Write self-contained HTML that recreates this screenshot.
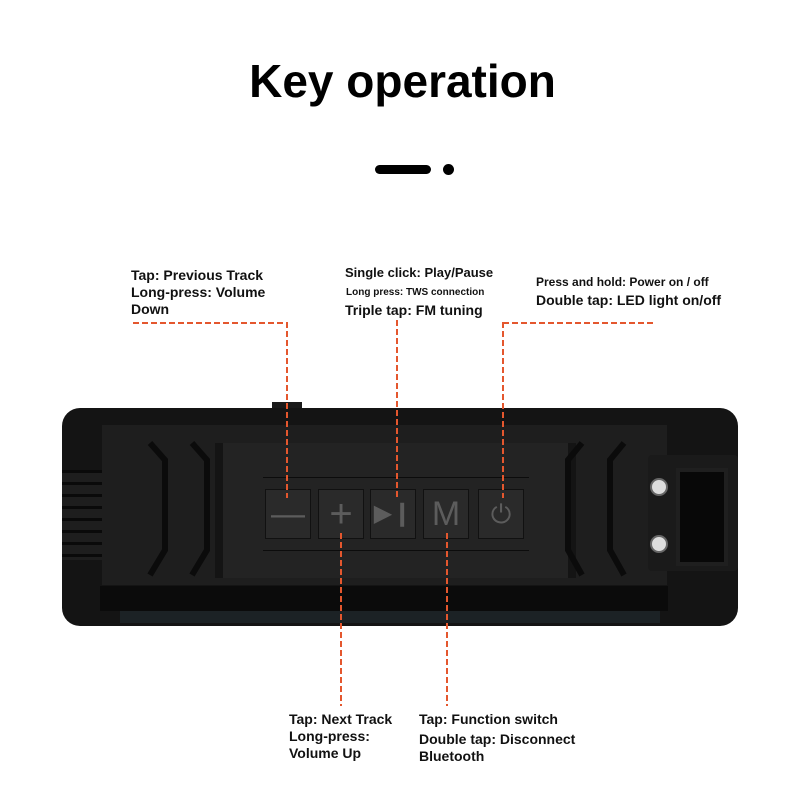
<!DOCTYPE html>
<html><head><style>
body{margin:0;width:790px;height:799px;background:#fff;position:relative;overflow:hidden;font-family:"Liberation Sans",sans-serif}
.a{position:absolute}
.t{position:absolute;font-weight:bold;color:#111;font-size:14px;line-height:17px;white-space:nowrap}
.h{position:absolute;height:2px;background:repeating-linear-gradient(90deg,#e4572e 0 6px,transparent 6px 9px)}
.v{position:absolute;width:2px;background:repeating-linear-gradient(180deg,#e4572e 0 6px,transparent 6px 9px)}
.btn{position:absolute;top:489px;width:44px;height:48px;background:#2a2a2a;border:1px solid #111;color:#5c5c5c;font-size:34px;text-align:center;line-height:48px}
</style></head><body>
<div class="a" style="left:0;top:54px;width:805px;text-align:center;font-size:46px;font-weight:bold;color:#000">Key operation</div>
<div class="a" style="left:375px;top:165px;width:56px;height:9px;border-radius:5px;background:#000"></div>
<div class="a" style="left:443px;top:164px;width:11px;height:11px;border-radius:50%;background:#000"></div>

<div class="t" style="left:131px;top:267px">Tap: Previous Track<br>Long-press: Volume<br>Down</div>
<div class="t" style="left:345px;top:264px;font-size:13px">Single click: Play/Pause</div>
<div class="t" style="left:346px;top:284px;font-size:10px">Long press: TWS connection</div>
<div class="t" style="left:345px;top:302px">Triple tap: FM tuning</div>
<div class="t" style="left:536px;top:274px;font-size:12px">Press and hold: Power on / off</div>
<div class="t" style="left:536px;top:292px">Double tap: LED light on/off</div>
<div class="t" style="left:289px;top:711px">Tap: Next Track<br>Long-press:<br>Volume Up</div>
<div class="t" style="left:419px;top:711px">Tap: Function switch</div>
<div class="t" style="left:419px;top:731px">Double tap: Disconnect<br>Bluetooth</div>

<!-- speaker -->
<div class="a" style="left:272px;top:402px;width:30px;height:12px;background:#1a1a1a"></div>
<div class="a" style="left:62px;top:408px;width:676px;height:218px;background:#141414;border-radius:18px"></div>
<div class="a" style="left:62px;top:470px;width:48px;height:90px;background:repeating-linear-gradient(#0a0a0a 0 3px,#1e1e1e 3px 12px)"></div>
<div class="a" style="left:102px;top:425px;width:565px;height:160px;background:#1e1e1e"></div>
<div class="a" style="left:100px;top:586px;width:568px;height:25px;background:#0b0b0b"></div>
<div class="a" style="left:120px;top:611px;width:540px;height:12px;background:#1c2225"></div>
<div class="a" style="left:215px;top:443px;width:345px;height:135px;background:#232323;border-left:8px solid #141414;border-right:8px solid #141414"></div>
<div class="a" style="left:263px;top:477px;width:266px;height:1px;background:#0c0c0c"></div>
<div class="a" style="left:263px;top:550px;width:266px;height:1px;background:#0c0c0c"></div>
<svg class="a" style="left:120px;top:440px" width="110" height="140"><g fill="none" stroke="#0b0b0b" stroke-width="6"><path d="M30 3 L45 20 L45 110 L30 135"/><path d="M72 3 L87 20 L87 110 L72 135"/></g></svg>
<svg class="a" style="left:560px;top:440px" width="110" height="140"><g fill="none" stroke="#0b0b0b" stroke-width="6"><path d="M22 3 L8 20 L8 110 L22 135"/><path d="M64 3 L50 20 L50 110 L64 135"/></g></svg>
<div class="a" style="left:648px;top:455px;width:90px;height:116px;background:#1a1a1a;border-radius:4px"></div>
<div class="a" style="left:676px;top:468px;width:44px;height:90px;background:#080808;border:4px solid #1f1f1f"></div>
<div class="a" style="left:650px;top:478px;width:14px;height:14px;border-radius:50%;background:#ddd;border:2px solid #666"></div>
<div class="a" style="left:650px;top:535px;width:14px;height:14px;border-radius:50%;background:#ddd;border:2px solid #666"></div>
<div class="btn" style="left:265px">&#8212;</div>
<div class="btn" style="left:318px;font-size:40px">+</div>
<div class="btn" style="left:370px;font-size:24px">&#9654;&#10073;</div>
<div class="btn" style="left:423px">M</div>
<div class="btn" style="left:478px;font-size:26px">&#9211;</div>

<div class="h" style="left:133px;top:322px;width:155px"></div>
<div class="v" style="left:286px;top:322px;height:176px"></div>
<div class="v" style="left:396px;top:320px;height:178px"></div>
<div class="h" style="left:503px;top:322px;width:153px"></div>
<div class="v" style="left:502px;top:322px;height:176px"></div>
<div class="v" style="left:340px;top:533px;height:173px"></div>
<div class="v" style="left:446px;top:533px;height:173px"></div>
</body></html>
